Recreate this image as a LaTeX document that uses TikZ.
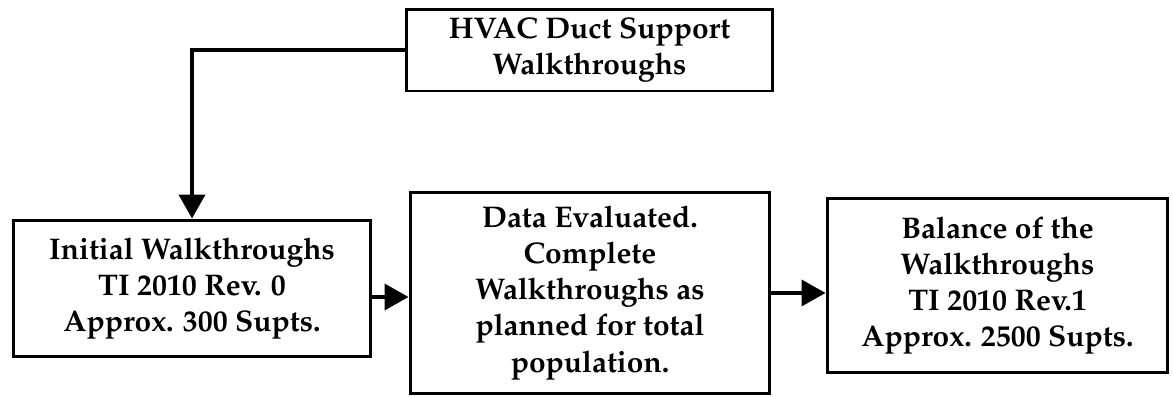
\documentclass[tikz,border=0pt]{standalone}
\usepackage[T1]{fontenc}
\usepackage{mathpazo}
\usetikzlibrary{arrows.meta}

\tikzset{
  stepbox/.style={draw, line width=1.7pt, align=center, inner sep=0pt,
    font=\fontsize{17}{20.5}\selectfont\bfseries},
  flow/.style={line width=2.2pt, -{Triangle[length=0.48cm,width=0.52cm]}}
}

\begin{document}
\begin{tikzpicture}[x=0.02cm, y=-0.02cm]
	%%%%% START %%%%%
	\useasboundingbox (0, 0) rectangle (1173, 396);

	\node[stepbox, minimum width=7.34cm, minimum height=1.64cm] (hvac) at (589.5, 50)
		{HVAC Duct Support\\Walkthroughs};

	\node[stepbox, minimum width=7.16cm, minimum height=2.74cm] (init) at (192, 288.5)
		{Initial Walkthroughs\\TI 2010 Rev. 0\\Approx. 300 Supts.};
	\node[stepbox, minimum width=7.2cm, minimum height=4.04cm] (data) at (590, 293)
		{Data Evaluated.\\Complete\\Walkthroughs as\\planned for total\\population.};
	\node[stepbox, minimum width=6.82cm, minimum height=3.5cm] (bal) at (997.5, 285.5)
		{Balance of the\\Walkthroughs\\TI 2010 Rev.1\\Approx. 2500 Supts.};

	% feed from the top box down into the first step
	\draw[flow] (hvac.west) -| (init.north);

	\coordinate (a1) at ([yshift=-0.17cm]init.east);
	\draw[flow] (a1) -- (a1 -| data.west);
	\draw[flow] (data.east) -- (data.east -| bal.west);
	%%%%% END %%%%%
\end{tikzpicture}
\end{document}
